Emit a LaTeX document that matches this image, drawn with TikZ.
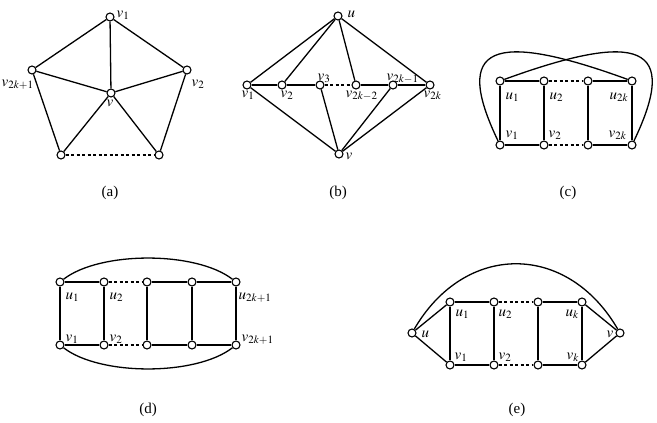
\documentclass[tikz,border=0pt]{standalone}
\usepackage{mathptmx}
\usepackage{fontspec}
\setmainfont{Liberation Serif}

\begin{document}
\begin{tikzpicture}[x=1pt, y=-1pt, line width=1.3pt, font=\fontsize{15}{17}\selectfont,
    vtx/.style={circle, draw, fill=white, inner sep=0pt, minimum size=8pt, line width=1.1pt},
    lab/.style={anchor=base west, inner sep=0pt},
    dots/.style={dash pattern=on 3pt off 2.5pt}]
    \useasboundingbox (0,0) rectangle (657,423);
    % (a) roda com centro v
    \node[vtx] (av1) at (110,17) {};
    \node[vtx] (av2) at (187,70) {};
    \node[vtx] (avn) at (32,70) {};
    \node[vtx] (av)  at (111,93) {};
    \node[vtx] (abl) at (61,155) {};
    \node[vtx] (abr) at (159,155) {};
    \draw (abl) -- (avn) -- (av1) -- (av2) -- (abr);
    \foreach \n in {av1,av2,avn,abl,abr} \draw (av) -- (\n);
    \draw[dots] (abl) -- (abr);
    \node[lab] (lav1) at (116,17) {$v_1$};
    \node[lab] (lav2) at (191,86) {$v_2$};
    \node[lab] (lavn) at (1,86)   {$v_{2k+1}$};
    \node[lab] (lav)  at (106,106) {$v$};
    \node (capa) at (110,193) {(a)};
    % (b) caminho v1 ... v2k com u e v
    \node[vtx] (bu)  at (338,16) {};
    \node[vtx] (bv1) at (247,85) {};
    \node[vtx] (bv2) at (282,85) {};
    \node[vtx] (bv3) at (320,85) {};
    \node[vtx] (bvm) at (356,85) {};
    \node[vtx] (bvn) at (393,85) {};
    \node[vtx] (bvk) at (430,85) {};
    \node[vtx] (bv)  at (339,154) {};
    \draw (bv1) -- (bv2) -- (bv3);
    \draw[dots] (bv3) -- (bvm);
    \draw (bvm) -- (bvn) -- (bvk);
    \foreach \n in {bv1,bv2,bvm,bvk} \draw (bu) -- (\n);
    \foreach \n in {bv1,bv3,bvn,bvk} \draw (bv) -- (\n);
    \node[lab] (lbu)  at (347,17) {$u$};
    \node[lab] (lbv1) at (241,97) {$v_1$};
    \node[lab] (lbv2) at (280,97) {$v_2$};
    \node[lab] (lbv3) at (317,80) {$v_3$};
    \node[lab] (lbvm) at (345,97) {$v_{2k-2}$};
    \node[lab] (lbvn) at (386,80) {$v_{2k-1}$};
    \node[lab] (lbvk) at (423,97) {$v_{2k}$};
    \node[lab] (lbv)  at (345,159) {$v$};
    \node (capb) at (338,193) {(b)};
    % (c) escada com arestas cruzadas
    \foreach \i/\x in {1/500,2/544,3/588,4/632} {
        \node[vtx] (cu\i) at (\x,81) {};
        \node[vtx] (cv\i) at (\x,145) {};
        \draw (cu\i) -- (cv\i);
    }
    \draw (cu1) -- (cu2);  \draw[dots] (cu2) -- (cu3);  \draw (cu3) -- (cu4);
    \draw (cv1) -- (cv2);  \draw[dots] (cv2) -- (cv3);  \draw (cv3) -- (cv4);
    \draw (cu1) .. controls (640,30) and (680,45) .. (cv4);
    \draw (cu4) .. controls (492,30) and (452,45) .. (cv1);
    \node[lab] (lcu1) at (505,99)  {$u_1$};
    \node[lab] (lcu2) at (549,99)  {$u_2$};
    \node[lab] (lcu4) at (609,99)  {$u_{2k}$};
    \node[lab] (lcv1) at (505,137) {$v_1$};
    \node[lab] (lcv2) at (548,137) {$v_2$};
    \node[lab] (lcv4) at (608,137) {$v_{2k}$};
    \node (capc) at (568,193) {(c)};
    % (d) escada com arcos externos
    \foreach \i/\x in {1/60,2/104,3/147,4/192,5/236} {
        \node[vtx] (du\i) at (\x,282) {};
        \node[vtx] (dv\i) at (\x,345) {};
        \draw (du\i) -- (dv\i);
    }
    \draw (du1) -- (du2);  \draw[dots] (du2) -- (du3);  \draw (du3) -- (du4) -- (du5);
    \draw (dv1) -- (dv2);  \draw[dots] (dv2) -- (dv3);  \draw (dv3) -- (dv4) -- (dv5);
    \draw (du1) .. controls (100,251) and (196,251) .. (du5);
    \draw (dv1) .. controls (100,376) and (196,376) .. (dv5);
    \node[lab] (ldu1) at (65,299)  {$u_1$};
    \node[lab] (ldu2) at (109,299) {$u_2$};
    \node[lab] (ldu5) at (238,299) {$u_{2k+1}$};
    \node[lab] (ldv1) at (65,341)  {$v_1$};
    \node[lab] (ldv2) at (109,341) {$v_2$};
    \node[lab] (ldv5) at (241,341) {$v_{2k+1}$};
    \node (capd) at (148,410) {(d)};
    % (e) escada com u e v nas pontas
    \node[vtx] (eu) at (412,333) {};
    \node[vtx] (ev) at (620,333) {};
    \foreach \i/\x in {1/450,2/494,3/538,4/582} {
        \node[vtx] (eu\i) at (\x,302) {};
        \node[vtx] (ev\i) at (\x,365) {};
        \draw (eu\i) -- (ev\i);
    }
    \draw (eu1) -- (eu2);  \draw[dots] (eu2) -- (eu3);  \draw (eu3) -- (eu4);
    \draw (ev1) -- (ev2);  \draw[dots] (ev2) -- (ev3);  \draw (ev3) -- (ev4);
    \draw (eu1) -- (eu) -- (ev1);
    \draw (eu4) -- (ev) -- (ev4);
    \draw (eu) .. controls (465,242) and (567,242) .. (ev);
    \node[lab] (leu)  at (421,337) {$u$};
    \node[lab] (leu1) at (455,316) {$u_1$};
    \node[lab] (leu2) at (498,316) {$u_2$};
    \node[lab] (leu4) at (565,316) {$u_k$};
    \node[lab] (lev)  at (606,337) {$v$};
    \node[lab] (lev1) at (454,359) {$v_1$};
    \node[lab] (lev2) at (498,359) {$v_2$};
    \node[lab] (lev4) at (566,359) {$v_k$};
    \node (cape) at (517,410) {(e)};
\end{tikzpicture}
\end{document}
